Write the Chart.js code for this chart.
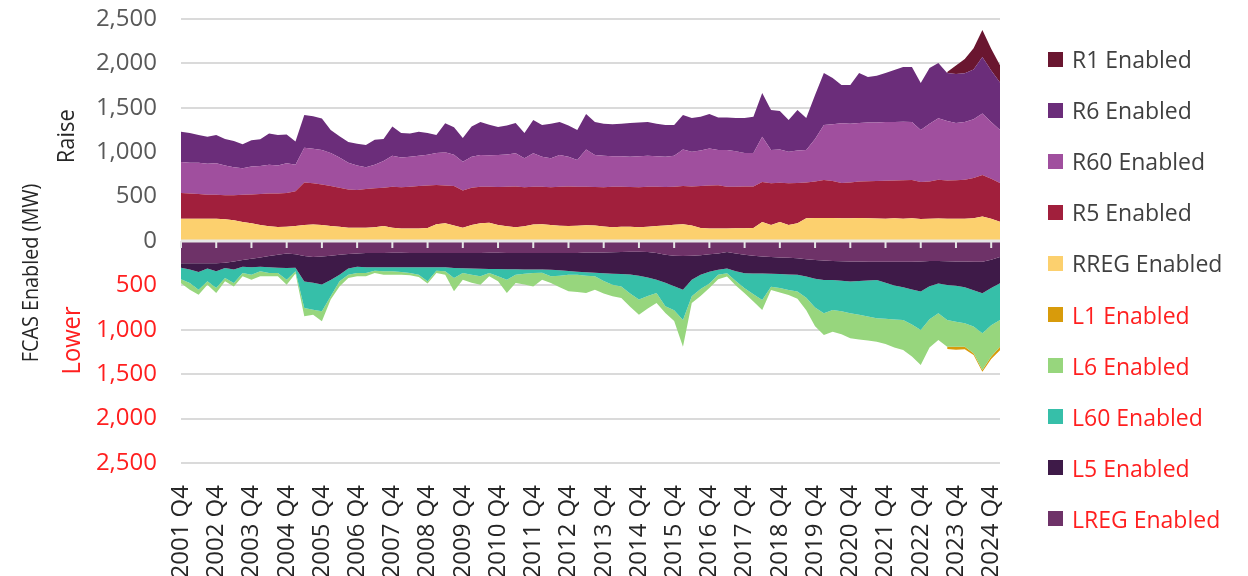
<!DOCTYPE html>
<html>
<head>
<meta charset="utf-8">
<script src="https://cdn.jsdelivr.net/npm/chart.js@4/dist/chart.umd.min.js"></script>
<style>
  body { margin: 0; background: #fff; }
  #wrap { position: relative; width: 1248px; height: 576px; }
  #legend { position: absolute; left: 0; top: 0; }
  .item { position: absolute; left: 1048px; height: 30px; display: flex; align-items: center;
          font-family: 'Open Sans', sans-serif; font-size: 23px; white-space: nowrap; }
  .box { width: 15px; height: 15px; margin-right: 9px; }
</style>
</head>
<body>
<div id="wrap">
  <canvas id="fcas" width="1248" height="576"></canvas>
  <div id="legend"></div>
</div>
<script>
// quarters, 2001 Q4 .. 2025 Q1
let quarters = [
    '2001 Q4',
    '2002 Q1', '2002 Q2', '2002 Q3', '2002 Q4', '2003 Q1', '2003 Q2', '2003 Q3', '2003 Q4',
    '2004 Q1', '2004 Q2', '2004 Q3', '2004 Q4', '2005 Q1', '2005 Q2', '2005 Q3', '2005 Q4',
    '2006 Q1', '2006 Q2', '2006 Q3', '2006 Q4', '2007 Q1', '2007 Q2', '2007 Q3', '2007 Q4',
    '2008 Q1', '2008 Q2', '2008 Q3', '2008 Q4', '2009 Q1', '2009 Q2', '2009 Q3', '2009 Q4',
    '2010 Q1', '2010 Q2', '2010 Q3', '2010 Q4', '2011 Q1', '2011 Q2', '2011 Q3', '2011 Q4',
    '2012 Q1', '2012 Q2', '2012 Q3', '2012 Q4', '2013 Q1', '2013 Q2', '2013 Q3', '2013 Q4',
    '2014 Q1', '2014 Q2', '2014 Q3', '2014 Q4', '2015 Q1', '2015 Q2', '2015 Q3', '2015 Q4',
    '2016 Q1', '2016 Q2', '2016 Q3', '2016 Q4', '2017 Q1', '2017 Q2', '2017 Q3', '2017 Q4',
    '2018 Q1', '2018 Q2', '2018 Q3', '2018 Q4', '2019 Q1', '2019 Q2', '2019 Q3', '2019 Q4',
    '2020 Q1', '2020 Q2', '2020 Q3', '2020 Q4', '2021 Q1', '2021 Q2', '2021 Q3', '2021 Q4',
    '2022 Q1', '2022 Q2', '2022 Q3', '2022 Q4', '2023 Q1', '2023 Q2', '2023 Q3', '2023 Q4',
    '2024 Q1', '2024 Q2', '2024 Q3', '2024 Q4', '2025 Q1'
];

let tickLabels = ['2001 Q4', '2002 Q4', '2003 Q4', '2004 Q4', '2005 Q4', '2006 Q4', '2007 Q4', '2008 Q4',
    '2009 Q4', '2010 Q4', '2011 Q4', '2012 Q4', '2013 Q4', '2014 Q4', '2015 Q4', '2016 Q4',
    '2017 Q4', '2018 Q4', '2019 Q4', '2020 Q4', '2021 Q4', '2022 Q4', '2023 Q4', '2024 Q4'];

// raise services (MW)
let rreg = [250, 250, 250, 250, 250, 245, 235, 215, 200, 180, 165, 158, 160, 170, 180, 185, 180, 170, 160, 150,
    150, 150, 155, 170, 150, 140, 140, 140, 145, 190, 200,
    175, 150, 180, 200, 205, 180, 165, 155, 165, 185, 190, 180, 172, 170, 172, 178, 175, 162, 155, 160,
    160, 155, 160, 168, 175, 182, 190, 175, 145, 140, 140, 142, 143, 143, 145, 215, 180, 215, 180, 200,
    255, 258, 260, 258, 255, 255, 258, 255, 252, 250, 255, 250, 255, 248, 250, 252, 250, 250, 250, 255,
    275, 250, 218];
let r5 = [290, 285, 280, 270, 270, 270, 280, 305, 325, 350, 370, 377, 380, 390, 480, 465, 455, 450, 440, 430,
    425, 435, 440, 430, 460, 465, 470, 480, 480, 440, 425,
    445, 420, 420, 410, 407, 428, 447, 460, 440, 427, 420, 425, 440, 445, 438, 434, 433, 443, 455, 452,
    448, 450, 450, 444, 433, 430, 430, 440, 473, 485, 488, 470, 469, 472, 470, 449, 470, 440, 470, 453,
    405, 412, 427, 417, 398, 405, 412, 417, 423, 428, 425, 433, 432, 417, 420, 438, 430, 435, 440, 455,
    468, 450, 435];
let r60 = [350, 345, 350, 350, 355, 335, 315, 300, 315, 315, 325, 315, 335, 300, 390, 390, 390, 370, 340, 300,
    275, 245, 265, 300, 350, 335, 340, 340, 345, 360, 375,
    350, 323, 350, 358, 353, 360, 363, 372, 326, 375, 340, 326, 356, 335, 302, 419, 360, 355, 345, 343,
    342, 350, 350, 343, 342, 348, 411, 391, 402, 418, 397, 413, 398, 375, 375, 511, 375, 375, 356, 367,
    365, 480, 619, 640, 672, 660, 660, 663, 660, 662, 660, 661, 653, 585, 650, 691, 670, 645, 650, 660,
    694, 640, 597];
let r6 = [340, 335, 315, 305, 320, 300, 295, 270, 295, 300, 350, 345, 325, 260, 370, 365, 355, 260, 240, 235,
    245, 250, 280, 250, 330, 275, 260, 270, 245, 205, 325,
    310, 267, 340, 372, 345, 317, 325, 343, 285, 375, 356, 389, 372, 350, 338, 399, 372, 360, 360, 365,
    379, 380, 380, 365, 356, 346, 388, 379, 380, 387, 365, 365, 375, 395, 410, 491, 450, 434, 356, 455,
    360, 494, 586, 520, 431, 436, 562, 512, 525, 552, 585, 615, 619, 529, 628, 623, 542, 550, 550, 560,
    635, 580, 535];
let r1 = [null, null, null, null, null, null, null, null, null, null, null, null, null, null, null, null,
    null, null, null, null, null, null, null, null, null, null, null, null, null, null, null, null,
    null, null, null, null, null, null, null, null, null, null, null, null, null, null, null, null,
    null, null, null, null, null, null, null, null, null, null, null, null, null, null, null, null,
    null, null, null, null, null, null, null, null, null, null, null, null, null, null, null, null,
    null, null, null, null, null, null, null,
    10, 95, 160, 240, 305, 245, 195];

// lower services (MW, plotted below zero)
let lreg = [-250, -250, -250, -250, -250, -245, -230, -215, -200, -185, -170, -155, -140, -150, -170, -180,
    -175, -165, -155, -145, -140, -135, -135, -135, -132, -132, -135, -135, -135, -135, -135,
    -135, -135, -135, -135, -132, -132, -135, -135, -135, -135, -135, -135, -135, -135, -135, -130,
    -130, -130, -128, -125, -122, -122, -125, -135, -155, -165, -170, -165, -160, -150, -140, -125,
    -140, -155, -165, -175, -180, -185, -190, -195, -205, -214, -220, -225, -228, -230, -232, -233,
    -233, -233, -233, -233, -233, -230, -225, -225, -228, -230, -232, -233, -233, -210, -180];
let l5 = [-50, -70, -100, -60, -90, -60, -90, -75, -95, -105, -125, -145, -165, -150, -285, -290,
    -315, -275, -225, -165, -150, -160, -160, -160, -163, -163, -160, -160, -160, -160, -160,
    -170, -173, -175, -177, -183, -183, -183, -183, -185, -185, -187, -188, -195, -203, -210, -222,
    -228, -232, -240, -247, -256, -268, -285, -300, -315, -345, -378, -270, -220, -195, -183, -185,
    -200, -209, -200, -191, -188, -187, -186, -185, -195, -211, -219, -214, -220, -225, -218, -212,
    -207, -237, -267, -287, -312, -340, -285, -255, -267, -275, -288, -322, -356, -320, -297];
let l60 = [-130, -153, -198, -144, -190, -112, -153, -70, -84, -52, -65, -60, -130, -40, -300, -303,
    -302, -183, -74, -69, -70, -65, -40, -47, -47, -55, -65, -84, -159, -40, -47,
    -112, -52, -70, -86, -45, -83, -117, -61, -50, -40, -35, -75, -60, -41, -35, -40,
    -40, -88, -124, -139, -212, -270, -210, -151, -266, -270, -342, -188, -160, -135, -57, -54,
    -110, -169, -235, -298, -146, -158, -176, -190, -240, -325, -375, -338, -342, -359, -380, -405,
    -430, -405, -385, -369, -395, -432, -370, -334, -394, -405, -407, -409, -451, -420, -412];
let l6 = [-45, -75, -57, -38, -56, -37, -38, -38, -56, -56, -38, -38, -57, -25, -93, -57,
    -113, -37, -57, -38, -38, -38, -25, -37, -37, -29, -25, -25, -25, -25, -37,
    -150, -75, -90, -94, -38, -56, -151, -94, -120, -151, -78, -75, -130, -188, -195, -194,
    -150, -140, -131, -131, -150, -170, -140, -112, -75, -120, -300, -75, -80, -50, -50, -37,
    -50, -56, -80, -113, -38, -50, -56, -80, -140, -210, -245, -244, -260, -282, -280, -270,
    -264, -285, -315, -339, -360, -395, -320, -301, -301, -280, -263, -301, -413, -350, -301];
let l1 = [null, null, null, null, null, null, null, null, null, null, null, null, null, null, null, null,
    null, null, null, null, null, null, null, null, null, null, null, null, null, null, null, null,
    null, null, null, null, null, null, null, null, null, null, null, null, null, null, null, null,
    null, null, null, null, null, null, null, null, null, null, null, null, null, null, null, null,
    null, null, null, null, null, null, null, null, null, null, null, null, null, null, null, null,
    null, null, null, null, null, null, null,
    -25, -35, -30, -20, -20, -30, -40];

const GREY = '#595959';
const RED = '#ff1f1f';

function area(label, data, color, fill) {
    return {
        label: label,
        data: data,
        backgroundColor: color,
        borderWidth: 0,
        pointRadius: 0,
        pointHoverRadius: 0,
        tension: 0,
        fill: fill
    };
}

let datasets = [
    area('RREG Enabled', rreg, '#fcd06e', 'origin'),
    area('R5 Enabled', r5, '#a11f3c', '-1'),
    area('R60 Enabled', r60, '#a04f9e', '-1'),
    area('R6 Enabled', r6, '#6b2d7a', '-1'),
    area('R1 Enabled', r1, '#6a1630', '-1'),
    area('LREG Enabled', lreg, '#6e3268', 'origin'),
    area('L5 Enabled', l5, '#3e1a48', '-1'),
    area('L60 Enabled', l60, '#36bfa9', '-1'),
    area('L6 Enabled', l6, '#97d67d', '-1'),
    area('L1 Enabled', l1, '#d89b0b', '-1')
];

let legendOrder = ['R1 Enabled', 'R6 Enabled', 'R60 Enabled', 'R5 Enabled', 'RREG Enabled',
    'L1 Enabled', 'L6 Enabled', 'L60 Enabled', 'L5 Enabled', 'LREG Enabled'];

// white zero line with tick marks, drawn over the areas
const zeroAxis = {
    id: 'zeroAxis',
    afterDatasetsDraw(chart) {
        const {ctx, chartArea, scales: {x, y}} = chart;
        const y0 = y.getPixelForValue(0);
        ctx.save();
        ctx.strokeStyle = '#e6e6e6';
        ctx.lineWidth = 3;
        ctx.beginPath();
        ctx.moveTo(chartArea.left, y0);
        ctx.lineTo(chartArea.right, y0);
        ctx.stroke();
        ctx.lineWidth = 2;
        quarters.forEach(function (q, i) {
            if (tickLabels.indexOf(q) < 0) return;
            const px = x.getPixelForValue(i);
            ctx.beginPath();
            ctx.moveTo(px, y0);
            ctx.lineTo(px, y0 + 7);
            ctx.stroke();
        });
        ctx.restore();
    }
};

function vText(ctx, text, x, y, font, color, squeeze) {
    ctx.save();
    ctx.translate(x, y);
    ctx.rotate(-Math.PI / 2);
    ctx.scale(squeeze || 1, 1);
    ctx.font = font;
    ctx.fillStyle = color;
    ctx.textAlign = 'center';
    ctx.textBaseline = 'middle';
    ctx.fillText(text, 0, 0);
    ctx.restore();
}

const axisTitles = {
    id: 'axisTitles',
    afterDraw(chart) {
        const ctx = chart.ctx;
        const y = chart.scales.y;
        vText(ctx, 'FCAS Enabled (MW)', 32, 273, "22px 'Open Sans'", '#262626', 0.9);
        vText(ctx, 'Raise', 67, y.getPixelForValue(1180), "23px 'Open Sans'", '#262626', 0.95);
        vText(ctx, 'Lower', 73, y.getPixelForValue(-1120), "25px 'Open Sans'", RED, 0.95);
    }
};

Chart.defaults.font.family = "'Open Sans', sans-serif";

let ctx = document.getElementById('fcas').getContext('2d');
let chart = new Chart(ctx, {
    type: 'line',
    data: {labels: quarters, datasets: datasets},
    options: {
        responsive: false,
        animation: false,
        layout: {padding: {top: 19, right: 248, left: 0, bottom: 0}},
        plugins: {
            legend: {display: false},
            tooltip: {enabled: false},
            title: {display: false}
        },
        scales: {
            x: {
                grid: {display: false},
                border: {display: false},
                ticks: {
                    autoSkip: false,
                    minRotation: 90,
                    maxRotation: 90,
                    padding: 14,
                    color: '#262626',
                    font: {size: 24},
                    callback: function (value) {
                        let q = quarters[value];
                        return tickLabels.indexOf(q) >= 0 ? q : '';
                    }
                },
                afterFit: function (scale) {
                    scale.height = 113;
                    scale.paddingLeft = 0;
                    scale.paddingRight = 0;
                }
            },
            y: {
                stacked: true,
                min: -2500,
                max: 2500,
                border: {display: false},
                grid: {color: '#dadada', lineWidth: 2, drawTicks: false},
                ticks: {
                    stepSize: 500,
                    padding: 24,
                    font: {size: 24},
                    color: function (c) { return c.tick.value < 0 ? RED : GREY; },
                    callback: function (v) { return Math.abs(v).toLocaleString('en-US'); }
                },
                afterFit: function (scale) {
                    scale.width = 181;
                    scale.paddingTop = 0;
                    scale.paddingBottom = 0;
                }
            }
        }
    },
    plugins: [zeroAxis, axisTitles]
});

// legend
let legendEl = document.getElementById('legend');
legendOrder.forEach(function (name, k) {
    let ds = datasets.find(function (d) { return d.label === name; });
    let item = document.createElement('div');
    item.className = 'item';
    item.style.top = (59 + k * 51.1 - 15) + 'px';
    item.style.color = name.charAt(0) === 'L' ? RED : '#404040';
    let box = document.createElement('span');
    box.className = 'box';
    box.style.background = ds.backgroundColor;
    item.appendChild(box);
    item.appendChild(document.createTextNode(name));
    legendEl.appendChild(item);
});
</script>
</body>
</html>
